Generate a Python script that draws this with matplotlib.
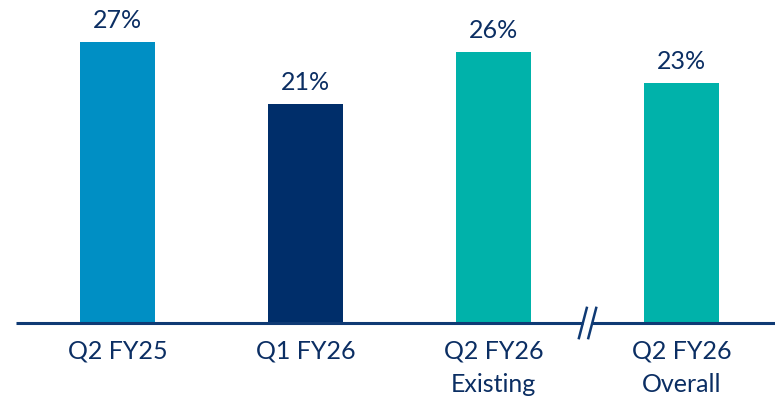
import numpy as np
from matplotlib import pyplot as plt

categories = ['Q2 FY25', 'Q1 FY26', 'Q2 FY26\nExisting', 'Q2 FY26\nOverall']
values = [27, 21, 26, 23]
colors = ['#008FC4', '#002E6A', '#00B2AA', '#00B2AA']

text_color = '#0B2E63'
line_color = '#0F3A74'

plt.rcParams['font.family'] = ['Lato', 'DejaVu Sans']

fig = plt.figure(figsize=(7.75, 4.01), dpi=100)
ax = fig.add_axes([16 / 775, 78 / 401, 759 / 775, 323 / 401])

x = np.arange(len(values))
bars = ax.bar(x, values, width=0.4, color=colors)

for xi, v in zip(x, values):
    ax.text(xi, v + 0.95, '%d%%' % v, ha='center', va='bottom',
            fontsize=18, color=text_color)

ax.set_xlim(-0.54, 3.497)
ax.set_ylim(0, 31)
for s in ax.spines.values():
    s.set_visible(False)
ax.set_yticks([])
ax.set_xticks([])

# baseline with a break between the third and fourth bar
brk = 2.5
gap = 0.025
ax.plot([-0.54, brk - gap], [0, 0], color=line_color, lw=2.2, clip_on=False,
        solid_capstyle='butt')
ax.plot([brk + gap, 3.497], [0, 0], color=line_color, lw=2.2, clip_on=False,
        solid_capstyle='butt')
for off in (-gap, gap):
    ax.plot([off + brk - 0.021, off + brk + 0.021], [-1.45, 1.45],
            color=line_color, lw=1.8, clip_on=False)

for xi, lab in zip(x, categories):
    ax.text(xi, -1.6, lab, ha='center', va='top', fontsize=18,
            color=text_color, linespacing=1.55)

fig.savefig('out.png', dpi=100)
